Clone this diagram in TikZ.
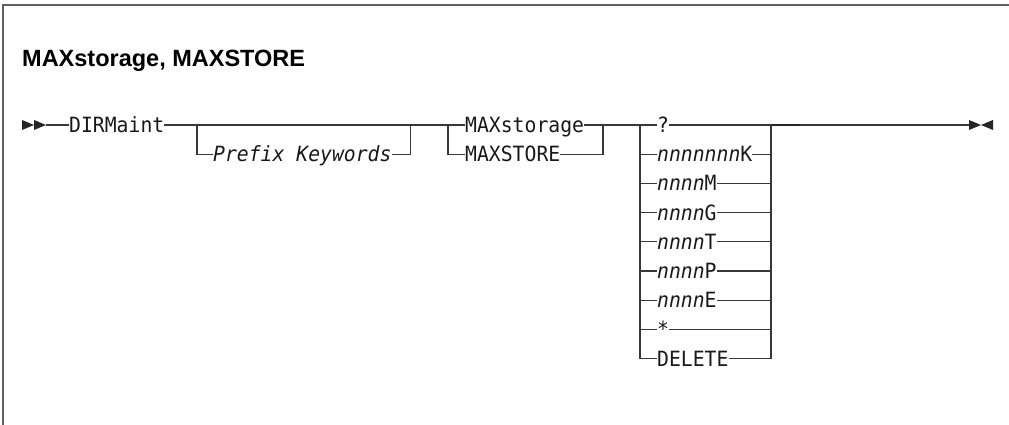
\documentclass[tikz,border=0pt]{standalone}
\usepackage{fontspec}
\setmonofont[FakeStretch=0.94]{DejaVu Sans Mono}
\newfontfamily\titlefont{Liberation Sans}
\begin{document}
\begin{tikzpicture}[x=1pt,y=-1pt,
  rr/.style={line width=1.3pt, draw=black!78},
  framebox/.style={line width=1.4pt, draw=black!62},
  lbl/.style={inner sep=0pt, anchor=west, text height=15pt, text depth=0pt,
    font=\fontsize{21}{24}\selectfont\ttfamily, text=black!90},
  tip/.style={fill=black!85, draw=none},
]
\useasboundingbox (0,0) rectangle (1009,425);
% frame
\draw[framebox] (3,425) -- (3,5) -- (1012,5);
% title
\node[anchor=base west, inner sep=0pt, text=black] (title) at (22,67)
  {\titlefont\bfseries\fontsize{23.5}{27}\selectfont MAXstorage, MAXSTORE};
% start arrows
\fill[tip] (22,120) -- (34,125) -- (22,130) -- cycle;
\fill[tip] (34,120) -- (46,125) -- (34,130) -- cycle;
\coordinate (s) at (46,125);
% labels
\node[lbl] (dir) at (69,125) {DIRMaint};
\node[lbl] (pk) at (213,154.2) {\itshape Prefix Keywords};
\node[lbl] (maxs) at (465,125) {MAXstorage};
\node[lbl] (mst) at (465,154.2) {MAXSTORE};
\node[lbl] (q) at (657,125) {?};
\node[lbl] (r1) at (657,154.2) {\itshape nnnnnnn\upshape K};
\node[lbl] (r2) at (657,183.4) {\itshape nnnn\upshape M};
\node[lbl] (r3) at (657,212.6) {\itshape nnnn\upshape G};
\node[lbl] (r4) at (657,241.8) {\itshape nnnn\upshape T};
\node[lbl] (r5) at (657,271.0) {\itshape nnnn\upshape P};
\node[lbl] (r6) at (657,300.2) {\itshape nnnn\upshape E};
\node[lbl] (r7) at (657,329.4) {*};
\node[lbl] (r8) at (657,358.6) {DELETE};
% junction coordinates
\coordinate (p1) at (197,125);
\coordinate (p2) at (410.5,125);
\coordinate (a1) at (448,125);
\coordinate (a2) at (603,125);
\coordinate (c1) at (640,125);
\coordinate (c2) at (771,125);
\coordinate (d) at (800,125);
\coordinate (e) at (969,125);
% main line
\draw[rr] (s) -- (dir.west);
\draw[rr] (dir.east) -- (maxs.west);
\draw[rr] (maxs.east) -- (q.west);
\draw[rr] (q.east) -- (e);
\draw[rr, line width=1.8pt, draw=black!85] (c2) -- (d);
% prefix keywords branch
\draw[rr] (p1) |- (pk.west);
\draw[rr] (pk.east) -| (p2);
% MAXSTORE branch
\draw[rr] (a1) |- (mst.west);
\draw[rr] (mst.east) -| (a2);
% choice branches
\foreach \r in {r1,r2,r3,r4,r5,r6,r7,r8}{
  \draw[rr] (c1) |- (\r.west);
  \draw[rr] (\r.east) -| (c2);
}
% end arrows
\fill[tip] (969,120) -- (981,125) -- (969,130) -- cycle;
\fill[tip] (993,120) -- (981,125) -- (993,130) -- cycle;
\end{tikzpicture}
\end{document}
